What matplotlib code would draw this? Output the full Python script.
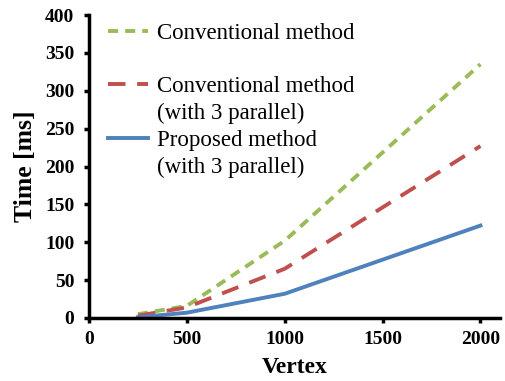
import matplotlib
matplotlib.use("Agg")
import matplotlib.pyplot as plt
from matplotlib.lines import Line2D

vertex = [250, 500, 1000, 2000]
conventional = [5, 16, 102, 335]
conventional_par = [3, 14, 65, 227]
proposed_par = [1, 7, 32, 122]
legend_rows = ["Conventional method", " ", "Conventional method", "(with 3 parallel)",
               "Proposed method", "(with 3 parallel)"]

plt.rcParams['font.family'] = ['Liberation Serif', 'DejaVu Serif']
fig = plt.figure(figsize=(5.06, 3.81), dpi=100)
ax = fig.add_axes([89/506, 63/381, (500-89)/506, (318-15)/381])

lw = 2.8
l1, = ax.plot(vertex, conventional, color='#9BBB59', lw=lw, ls=(0, (2.6, 1.8)))
l2, = ax.plot(vertex, conventional_par, color='#C0504D', lw=lw, ls=(0, (4.5, 3.0)))
l3, = ax.plot(vertex, proposed_par, color='#4F81BD', lw=lw)

ax.set_xlim(0, 2100)
ax.set_ylim(0, 400)
ax.set_xticks([0, 500, 1000, 1500, 2000])
ax.set_yticks(range(0, 401, 50))
for s in ['top', 'right']:
    ax.spines[s].set_visible(False)
for s in ['left', 'bottom']:
    ax.spines[s].set_linewidth(2.5)
ax.tick_params(width=2.5, length=3.6, labelsize=14)
ax.tick_params(axis='y', pad=7)
ax.tick_params(axis='x', pad=6)
for t in ax.get_xticklabels() + ax.get_yticklabels():
    t.set_fontweight('bold')
ax.set_xlabel('Vertex', fontsize=17, fontweight='bold', labelpad=6)
ax.set_ylabel('Time [ms]', fontsize=18.5, fontweight='bold', labelpad=6)

blank = Line2D([], [], color='none')
handles = [l1, blank, l2, blank, l3, blank]
leg = ax.legend(handles, legend_rows, loc='upper left', bbox_to_anchor=(108/506, 1-22.5/381),
                bbox_transform=fig.transFigure, frameon=False, fontsize=16.5,
                handlelength=1.75, labelspacing=0.25, handletextpad=0.4,
                borderpad=0, borderaxespad=0)

fig.savefig('out.png', dpi=100)
